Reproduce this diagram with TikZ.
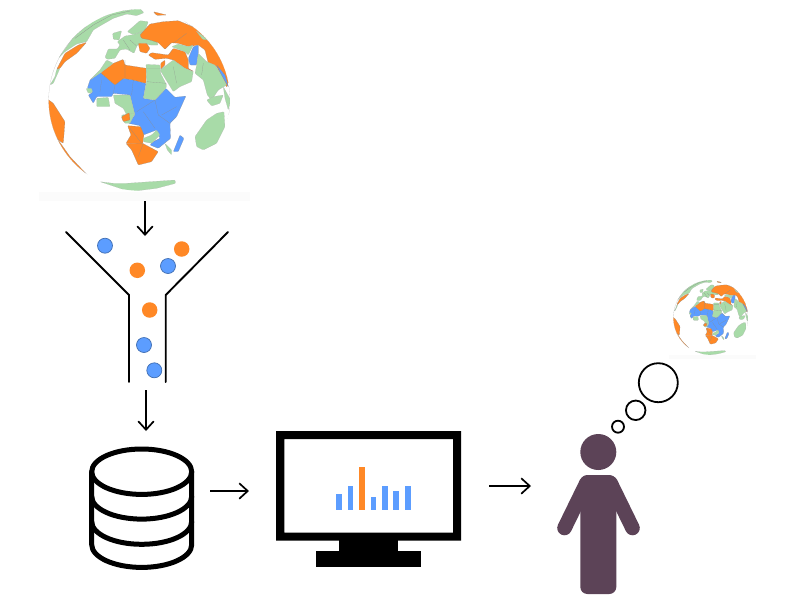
\documentclass[tikz,border=0pt]{standalone}
\usetikzlibrary{arrows.meta}
\definecolor{blobOrange}{HTML}{FF8826}
\definecolor{blobBlue}{HTML}{5C9DFF}
\definecolor{blobGreen}{HTML}{A8DBA8}
\definecolor{personCol}{HTML}{5C4357}
\tikzset{
  landO/.style={fill=blobOrange,draw=black!45,line width=0.12pt,line join=round,rounded corners=0.8pt},
  landB/.style={fill=blobBlue,draw=black!45,line width=0.12pt,line join=round,rounded corners=0.8pt},
  landG/.style={fill=blobGreen,draw=black!30,line width=0.12pt,line join=round,rounded corners=0.8pt},
  ballB/.style={circle,fill=blobBlue,draw=blobBlue!70!black,line width=0.7pt,minimum size=15pt,inner sep=0pt},
  ballO/.style={circle,fill=blobOrange,minimum size=15.5pt,inner sep=0pt},
  flowArrow/.style={-{Straight Barb[length=8.5pt,width=15.5pt]},line width=1.7pt},
  funnelLine/.style={line width=1.9pt,line cap=round},
  bubble/.style={circle,draw=black,line width=1.8pt,inner sep=0pt},
  dbLine/.style={line width=5pt,line cap=round,line join=round},
  barB/.style={fill=blobBlue},
  barO/.style={fill=blobOrange},
  globe/.pic={
    \begin{scope}[shift={(-328,-300)}]
      \fill[black!1.5] (28,575) rectangle (660,603); % faint band under the ball
      \clip (328,300) circle[radius=272];
      % north america and greenland
      \draw[landG] (85,175) -- (135,105) -- (190,62) -- (258,35) -- (330,26) -- (342,38) -- (320,47)
        -- (290,42) -- (250,55) -- (215,75) -- (190,90) -- (170,125) -- (140,132) -- (105,155) -- cycle;
      \draw[black!45,line width=0.2pt] (135,115) -- (190,75) -- (245,45) -- (300,33);
      \draw[landG] (60,255) -- (75,230) -- (80,208) -- (90,205) -- (70,250) -- cycle;
      \draw[landO] (80,208) -- (105,160) -- (145,135) -- (170,127) -- (140,160) -- (105,185) -- (90,205) -- cycle;
      % south america
      \draw[landO] (50,295) -- (70,310) -- (105,365) -- (100,430) -- (85,420) -- (45,370) -- cycle;
      \draw[landO] (85,420) -- (120,470) -- (172,525) -- (120,500) -- (80,440) -- cycle;
      % europe
      \draw[landG] (225,172) -- (235,147) -- (262,147) -- (270,135) -- (262,125) -- (285,108) -- (310,104)
        -- (345,92) -- (375,115) -- (385,135) -- (360,135) -- (345,130) -- (325,132) -- (320,140) -- (312,160)
        -- (290,147) -- (270,150) -- (255,175) -- (232,178) -- cycle;
      \draw[landG] (248,100) -- (275,92) -- (268,120) -- (250,118) -- cycle;
      \draw[landG] (292,95) -- (330,62) -- (355,65) -- (345,92) -- (310,104) -- cycle;
      \draw[landO] (325,130) -- (350,130) -- (360,145) -- (350,160) -- (330,155) -- cycle;
      % russia and asia
      \draw[landO] (330,105) -- (360,72) -- (400,65) -- (445,62) -- (500,85) -- (535,115)
        -- (570,165) -- (600,240) -- (590,262) -- (560,200) -- (535,190) -- (525,150) -- (505,135)
        -- (475,140) -- (445,130) -- (425,128) -- (405,148) -- (385,128) -- (360,120) -- (335,115) -- cycle;
      \draw[landO] (370,35) -- (410,45) -- (380,46) -- cycle;
      \draw[landG] (498,92) -- (535,120) -- (518,118) -- cycle;
      \draw[landO] (355,165) -- (365,158) -- (415,165) -- (430,145) -- (465,155) -- (475,180) -- (475,205)
        -- (492,215) -- (465,205) -- (430,180) -- (410,175) -- (375,178) -- cycle;
      \draw[landG] (445,132) -- (475,140) -- (490,135) -- (475,165) -- (465,155) -- (425,140) -- cycle;
      \draw[landB] (475,175) -- (490,140) -- (505,135) -- (505,160) -- (500,195) -- (480,195) -- cycle;
      \draw[landG] (505,160) -- (530,185) -- (555,195) -- (575,225) -- (590,255) -- (565,270) -- (545,300)
        -- (532,285) -- (520,240) -- (495,220) -- (500,195) -- cycle;
      \draw[landB] (560,195) -- (585,225) -- (596,262) -- (575,225) -- cycle;
      \draw[landG] (530,300) -- (550,290) -- (580,285) -- (570,310) -- (545,318) -- cycle;
      \draw[landG] (580,260) -- (602,300) -- (595,330) -- (585,295) -- cycle;
      \draw[landG] (410,195) -- (430,180) -- (465,205) -- (490,215) -- (485,245) -- (450,260) -- (430,275) -- (390,210) -- cycle;
      \draw[landO] (392,190) -- (405,180) -- (405,195) -- (392,208) -- cycle;
      % africa
      \draw[landB] (172,265) -- (180,240) -- (212,218) -- (255,255) -- (280,235) -- (310,240) -- (348,250)
        -- (340,295) -- (375,300) -- (408,265) -- (435,292) -- (468,288) -- (440,350) -- (420,370)
        -- (422,415) -- (385,445) -- (360,435) -- (370,425) -- (390,415) -- (380,390) -- (340,405)
        -- (330,377) -- (295,370) -- (315,345) -- (305,305) -- (300,285) -- (250,280) -- (245,290)
        -- (200,290) -- (190,310) -- (175,285) -- (188,277) -- cycle;
      \draw[landO] (212,218) -- (250,190) -- (280,178) -- (285,195) -- (350,205) -- (348,250) -- (310,240)
        -- (280,235) -- (255,255) -- cycle;
      \draw[landG] (348,193) -- (390,195) -- (392,220) -- (410,255) -- (408,265) -- (375,300) -- (340,295)
        -- (345,270) -- (350,245) -- cycle;
      \draw[landG] (180,240) -- (210,210) -- (230,180) -- (250,190) -- (212,218) -- cycle;
      \draw[landG] (168,265) -- (185,265) -- (188,277) -- (175,280) -- cycle;
      \draw[landG] (200,295) -- (235,292) -- (240,320) -- (200,320) -- cycle;
      \draw[landG] (250,285) -- (300,285) -- (305,305) -- (315,345) -- (290,345) -- (280,325) -- (255,310) -- cycle;
      \draw[landG] (275,345) -- (315,340) -- (300,370) -- (285,370) -- (275,355) -- cycle;
      \draw[landO] (275,350) -- (298,338) -- (300,360) -- (280,365) -- cycle;
      \draw[landO] (293,377) -- (332,380) -- (342,405) -- (338,432) -- (288,430) -- (303,405) -- cycle;
      \draw[landO] (288,430) -- (338,430) -- (385,455) -- (365,485) -- (325,495) -- (305,450) -- cycle;
      \draw[landG] (340,415) -- (365,405) -- (380,390) -- (390,405) -- (365,430) -- (340,425) -- cycle;
      \draw[landG] (405,430) -- (425,450) -- (425,465) -- (412,450) -- cycle;
      \draw[landB] (430,455) -- (450,405) -- (462,415) -- (445,455) -- cycle;
      % country borders
      \draw[black!45,line width=0.12pt] (215,240) -- (210,275) (255,255) -- (250,280) (310,240) -- (305,285)
        (320,335) -- (375,300) (375,300) -- (385,345) (385,345) -- (420,370) (395,345) -- (440,320)
        (340,335) -- (375,385) (300,385) -- (335,430) (340,430) -- (325,470) (285,180) -- (285,235)
        (430,130) -- (470,100) (350,205) -- (390,205) (350,245) -- (410,250) (430,200) -- (440,250)
        (520,190) -- (515,225) (280,120) -- (300,150) (300,120) -- (320,138);
      % australia and antarctica
      \draw[landG] (500,440) -- (495,410) -- (530,360) -- (560,340) -- (582,335) -- (585,380) -- (560,430) -- (520,450) -- cycle;
      \draw[landG] (210,545) -- (250,550) -- (290,550) -- (435,540) -- (437,550) -- (380,565) -- (300,575) -- cycle;
      % rim of the ball
      \draw[black!30,line width=0.12pt] (172,523) arc[start angle=125,end angle=235,radius=272];
      \draw[black!30,line width=0.12pt] (464,64.4) arc[start angle=-60,end angle=12,radius=272];
    \end{scope}
  }
}
\begin{document}
\begin{tikzpicture}[x=1pt,y=-1pt]
  \useasboundingbox (0,0) rectangle (800,600);
  % the two globes
  \pic (globeBig) [scale=0.3333] at (139.3,100) {globe};
  \pic (globeSmall) [scale=0.1374] at (710.7,317.5) {globe};
  % funnel
  \draw[funnelLine] (66,232) -- (129,295) -- (129,382);
  \draw[funnelLine] (228,232) -- (165.7,295) -- (165.7,382);
  \foreach \n/\x/\y in {a/105/245.7,b/168/266,c/144/345,d/154.3/370.3}
    \node[ballB] (ball\n) at (\x,\y) {};
  \foreach \n/\x/\y in {e/181.7/249,f/137.3/270.3,g/149.7/310}
    \node[ballO] (ball\n) at (\x,\y) {};
  % database
  \draw[dbLine] (141.7,471.7) circle[x radius=50,y radius=22.7];
  \draw[dbLine] (91.7,471.7) -- (91.7,544.7) arc[start angle=180,end angle=0,x radius=50,y radius=22.7] -- (191.7,471.7);
  \foreach \y in {496.4,521.6}
    \draw[dbLine] (91.7,\y) arc[start angle=180,end angle=0,x radius=50,y radius=22.7];
  % monitor
  \fill[even odd rule] (276,431) rectangle (461,540.7) (284.3,439) rectangle (453,532.7);
  \fill (339,540) rectangle (398.3,551);
  \fill (316,550.7) rectangle (421.3,567.3);
  \foreach \xa/\xb/\t/\s in {336/341.7/494/barB,347.7/353.3/485.7/barB,359/365/467.3/barO,370.7/376.3/497.3/barB,382/388/485.7/barB,393.3/399.3/491/barB,405/410.7/485.7/barB}
    \fill[\s] (\xa,\t) rectangle (\xb,509.7);
  % person
  \fill[personCol] (598.3,452) circle[radius=18];
  \fill[personCol,rounded corners=7pt] (580.3,475) rectangle (616.3,594);
  \draw[personCol,line width=14.6pt,line cap=round] (586.5,483) -- (564.5,528);
  \draw[personCol,line width=14.6pt,line cap=round] (610.5,483) -- (632.5,528);
  % thought bubbles
  \node[bubble,minimum size=12pt] (thinkA) at (618,426.7) {};
  \node[bubble,minimum size=19.5pt] (thinkB) at (635.7,410.3) {};
  \node[bubble,minimum size=39pt] (thinkC) at (658.3,382.7) {};
  % arrows
  \coordinate (globeOut) at (145,201);
  \coordinate (funnelIn) at (145,236);
  \coordinate (funnelOut) at (146,390);
  \coordinate (dbIn) at (146,431);
  \coordinate (dbOut) at (210,491);
  \coordinate (screenIn) at (249,491);
  \coordinate (screenOut) at (489,486);
  \coordinate (personIn) at (531,486);
  \draw[flowArrow] (globeOut) -- (funnelIn);
  \draw[flowArrow] (funnelOut) -- (dbIn);
  \draw[flowArrow] (dbOut) -- (screenIn);
  \draw[flowArrow] (screenOut) -- (personIn);
\end{tikzpicture}
\end{document}
